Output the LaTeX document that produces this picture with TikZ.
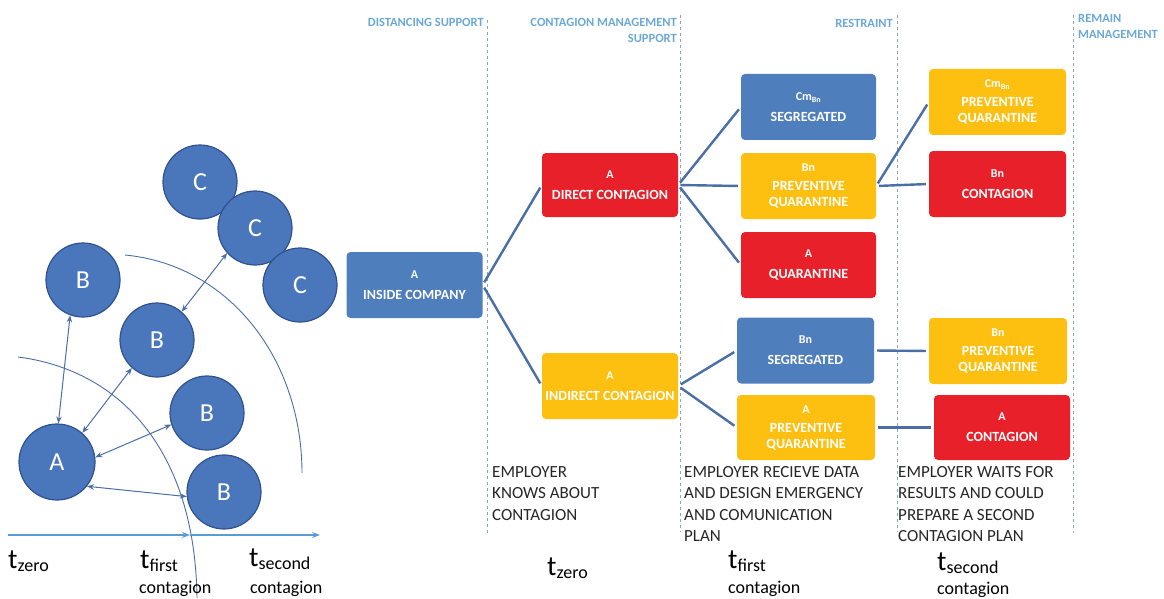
\documentclass[tikz,border=0pt]{standalone}
\usepackage{fontspec}
\setmainfont{Carlito}
\usepackage{tikz}
\usetikzlibrary{arrows.meta,positioning,calc}
\definecolor{boxblue}{HTML}{4F7EBD}
\definecolor{boxred}{HTML}{E8202A}
\definecolor{boxyellow}{HTML}{FDBF10}
\definecolor{circblue}{HTML}{4A76BC}
\definecolor{circedge}{HTML}{2F528F}
\definecolor{linkblue}{HTML}{4A6EA6}
\definecolor{headblue}{HTML}{6AA8DA}
\definecolor{phasegray}{HTML}{8EA6C4}
\definecolor{axisblue}{HTML}{5B9BD5}
\definecolor{notegray}{HTML}{262626}
\newcommand{\phasetime}[1]{{\fontsize{28}{28}\selectfont t}\raisebox{-3pt}{\fontsize{18}{18}\selectfont #1}}
\newcommand{\boxtag}[1]{{\fontsize{12}{14}\selectfont #1}}
\tikzset{% 
  status box/.style={%
    rounded corners=4pt, text=white, align=center, inner sep=0pt,
    font=\fontsize{14}{16}\selectfont\bfseries,
    minimum width=136pt, minimum height=66pt
  }
}
\tikzset{% 
  person/.style={%
    circle, draw=circedge, line width=1.2pt, fill=circblue, text=white,
    minimum size=74pt, inner sep=0pt, font=\fontsize{26}{26}\selectfont
  }
}
\tikzset{% 
  contact/.style={%
    <->, >={Stealth[length=7pt,width=5.5pt]}, draw=linkblue, line width=1pt
  },
  branch/.style={%
    draw=linkblue, line width=2.4pt, shorten >=3pt, shorten <=3pt
  },
  phase line/.style={draw=phasegray, dashed, line width=0.9pt},
  phase label/.style={text=headblue, inner sep=0pt, font=\fontsize{12.5}{16}\selectfont\bfseries},
  note/.style={anchor=north west, align=left, inner sep=0pt, text=notegray,
    font=\fontsize{17}{21.5}\selectfont}
}

\begin{document}
\begin{tikzpicture}[x=1pt, y=-1pt]
  \useasboundingbox (0,0) rectangle (1164,599);
  % left: people and contacts
  \coordinate (inA) at (18, 357);
  \coordinate (inB) at (197, 598);
  \coordinate (outA) at (125, 255);
  \coordinate (outB) at (302, 473);
  \draw [draw=linkblue, line width=0.9pt] (inA) .. controls (120, 370) and (195, 450) .. (inB);
  \draw [draw=linkblue, line width=0.9pt] (outA) .. controls (230, 265) and (302, 360) .. (outB);
  \node [person] (cone) at (200, 182) {C};
  \node [person] (ctwo) at (255, 228) {C};
  \node [person] (cthree) at (300, 285) {C};
  \node [person] (btl) at (83, 280) {B};
  \node [person] (bmid) at (157, 340) {B};
  \node [person] (bthree) at (207, 413) {B};
  \node [person] (bfour) at (224, 492) {B};
  \node [person, minimum size=76pt] (a) at (57, 462) {A};
  \draw [contact] (btl.250) -- (a.88);
  \draw [contact] (bmid.228) -- (a.49);
  \draw [contact] (ctwo.222) -- (bmid.49);
  \draw [contact] (bthree.198) -- (a.7);
  \draw [contact] (bfour.187) -- (a.321);
  \coordinate (tzero) at (8, 535);
  \coordinate (tfirst) at (190, 535);
  \coordinate (tsecond) at (320, 535);
  \draw [->, >={Stealth[length=8pt,width=6pt]}, draw=axisblue, line width=1.2pt] (tzero) -- (tfirst);
  \draw [->, >={Stealth[length=8pt,width=6pt]}, draw=axisblue, line width=1.2pt] (tfirst) -- (tsecond);
  \node [anchor=base west, inner sep=0pt] (lzero) at (8, 568) {\phasetime{zero}};
  \node [anchor=base west, inner sep=0pt] (lfirst) at (140, 568) {\phasetime{first}};
  \node [anchor=base west, inner sep=0pt] (lsecond) at (249, 566) {\phasetime{second}};
  \node [anchor=base west, inner sep=0pt, font=\fontsize{18}{18}\selectfont] (cfirst) at (139, 593) {contagion};
  \node [anchor=base west, inner sep=0pt, font=\fontsize{18}{18}\selectfont] (csecond) at (250, 593) {contagion};
  % phases
  \draw [phase line] (487, 20) -- (487, 535);
  \draw [phase line] (680, 15) -- (680, 532);
  \draw [phase line] (897, 15) -- (897, 532);
  \draw [phase line] (1073, 15) -- (1073, 533);
  \node [phase label, anchor=east] (hdist) at (484, 22) {DISTANCING SUPPORT};
  \node [phase label, anchor=north east, align=right] (hcont) at (677, 18) {CONTAGION MANAGEMENT\\SUPPORT};
  \node [phase label, anchor=east] (hrest) at (893, 23) {RESTRAINT};
  \node [phase label, anchor=north west, align=left] (hremain) at (1078, 14) {REMAIN\\MANAGEMENT};
  % boxes
  \node [status box, fill=boxblue] (inside) at (414.5, 285) {\boxtag{A}\\[5pt]INSIDE COMPANY};
  \node [status box, fill=boxred, minimum height=64pt] (direct) at (610, 185) {\boxtag{A}\\[5pt]DIRECT CONTAGION};
  \node [status box, fill=boxyellow] (indirect) at (610, 386) {\boxtag{A}\\[5pt]INDIRECT CONTAGION};
  \node [status box, fill=boxblue, minimum width=135pt] (cmseg) at (808.5, 107) {\boxtag{Cm\textsubscript{Bn}}\\[5pt]SEGREGATED};
  \node [status box, fill=boxyellow, minimum width=135pt] (bnprev) at (808.5, 186) {\boxtag{Bn}\\[3pt]PREVENTIVE\\QUARANTINE};
  \node [status box, fill=boxred, minimum width=135pt] (aquar) at (808.5, 265) {\boxtag{A}\\[5pt]QUARANTINE};
  \node [status box, fill=boxblue, minimum width=137pt] (bnseg) at (805.5, 350.5) {\boxtag{Bn}\\[5pt]SEGREGATED};
  \node [status box, fill=boxyellow, minimum width=138pt, minimum height=65pt] (aprev) at (806, 427.5) {\boxtag{A}\\[3pt]PREVENTIVE\\QUARANTINE};
  \node [status box, fill=boxyellow, minimum width=137pt] (cmprev) at (997.5, 102) {\boxtag{Cm\textsubscript{Bn}}\\[3pt]PREVENTIVE\\QUARANTINE};
  \node [status box, fill=boxred, minimum width=137pt] (bncont) at (997.5, 184) {\boxtag{Bn}\\[5pt]CONTAGION};
  \node [status box, fill=boxyellow, minimum width=138pt] (bnprevb) at (998, 351) {\boxtag{Bn}\\[3pt]PREVENTIVE\\QUARANTINE};
  \node [status box, fill=boxred, minimum height=65pt] (acont) at (1002, 427.5) {\boxtag{A}\\[5pt]CONTAGION};
  \draw [branch] (inside.east) -- (direct.west);
  \draw [branch] (inside.east) -- (indirect.west);
  \draw [branch] (direct.east) -- (cmseg.west);
  \draw [branch] (direct.east) -- (bnprev.west);
  \draw [branch] (direct.east) -- (aquar.west);
  \draw [branch] (indirect.east) -- (bnseg.west);
  \draw [branch] (indirect.east) -- (aprev.west);
  \draw [branch] (bnprev.east) -- (cmprev.west);
  \draw [branch] (bnprev.east) -- (bncont.west);
  \draw [branch] (bnseg.east) -- (bnprevb.west);
  \draw [branch] (aprev.east) -- (acont.west);
  % notes
  \node [note] (nzero) at (492, 466) {EMPLOYER\\KNOWS ABOUT\\CONTAGION};
  \node [note] (nfirst) at (684, 466) {EMPLOYER RECIEVE DATA\\AND DESIGN EMERGENCY\\AND COMUNICATION\\PLAN};
  \node [note] (nsecond) at (898, 466) {EMPLOYER WAITS FOR\\RESULTS AND COULD\\PREPARE A SECOND\\CONTAGION PLAN};
  \node [anchor=base west, inner sep=0pt] (mzero) at (547, 575) {\phasetime{zero}};
  \node [anchor=base west, inner sep=0pt] (mfirst) at (728, 568) {\phasetime{first}};
  \node [anchor=base west, inner sep=0pt, font=\fontsize{18}{18}\selectfont] (mcfirst) at (728, 593) {contagion};
  \node [anchor=base west, inner sep=0pt] (msecond) at (937, 570) {\phasetime{second}};
  \node [anchor=base west, inner sep=0pt, font=\fontsize{18}{18}\selectfont] (mcsecond) at (937, 594) {contagion};
\end{tikzpicture}
\end{document}
